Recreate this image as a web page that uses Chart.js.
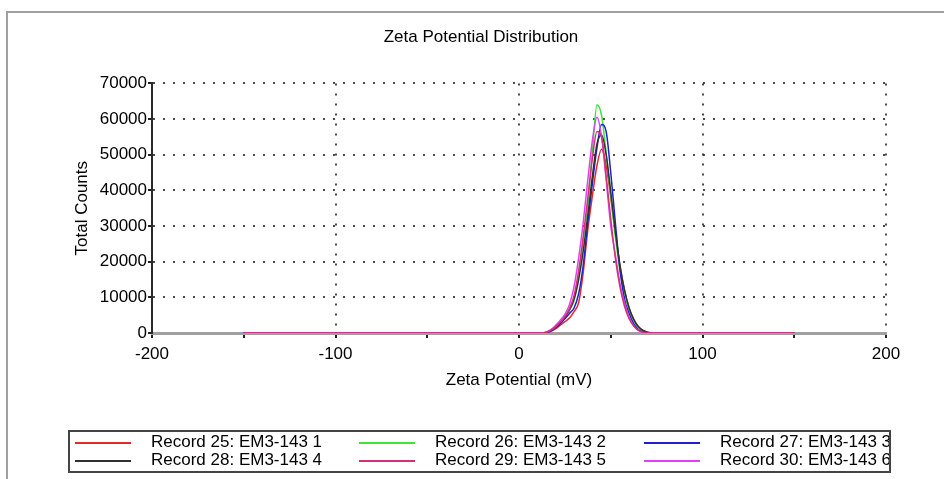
<!DOCTYPE html>
<html>
<head>
<meta charset="utf-8">
<script src="https://cdn.jsdelivr.net/npm/chart.js@4"></script>
<style>
  body { margin: 0; background: #fff; }
  #wrap { position: relative; width: 944px; height: 479px; overflow: hidden; font-family: "Liberation Sans", Arial, sans-serif; }
  #frame { position: absolute; left: 6px; top: 11px; right: -10px; bottom: -10px; border-top: 2px solid #a0a0a0; border-left: 2px solid #a0a0a0; }
  #box { position: absolute; left: 0; top: 0; width: 944px; height: 479px; }
  #leyenda { position: absolute; left: 68px; top: 430px; width: 819px; height: 38px; border: 2px solid #444; overflow: hidden;
             display: grid; grid-template-columns: 284px 285px 250px; grid-auto-rows: 18px; padding-top: 1px; }
  .item { position: relative; font-size: 17px; line-height: 18px; color: #000; white-space: nowrap; }
  .item span.linea { position: absolute; left: 5px; top: 9px; width: 56px; height: 2px; }
  .item span.txt { position: absolute; left: 81px; top: 0; }
</style>
</head>
<body>
<div id="wrap">
  <div id="frame"></div>
  <div id="box"><canvas id="myChart"></canvas></div>
  <div id="leyenda"></div>
</div>
<script>
// eje x (mV)
const zeta = [-150, 10, 12.5, 15, 17.5, 20, 22.5, 25, 27.5, 30, 32.5, 35, 37.5, 40, 42.5, 45, 47.5, 50, 52.5, 55, 57.5, 60, 62.5, 65, 67.5, 70, 72.5, 75, 150]

// total counts de cada registro
const rec25 = [0, 0, 0, 100, 500, 1200, 2200, 3200, 4200, 6000, 8500, 17000, 29000, 38500, 47000, 51500, 47000, 38000, 28000, 19000, 12000, 7000, 3800, 1800, 700, 200, 0, 0, 0]
const rec26 = [0, 0, 0, 200, 800, 1800, 3000, 4500, 6500, 9000, 16000, 26000, 36000, 51000, 64000, 61000, 50500, 38500, 27000, 17500, 11500, 6500, 3500, 1600, 600, 150, 0, 0, 0]
const rec27 = [0, 0, 0, 100, 600, 1500, 2600, 4000, 5500, 7000, 11000, 19000, 31000, 42000, 52000, 58500, 56500, 45000, 31000, 18000, 9500, 5500, 2600, 1000, 300, 50, 0, 0, 0]
const rec28 = [0, 0, 0, 200, 800, 1800, 3000, 4500, 6500, 9500, 15000, 23000, 33000, 44000, 53000, 55500, 50000, 39500, 28500, 19000, 12000, 7000, 3800, 1800, 700, 200, 0, 0, 0]
const rec29 = [0, 0, 0, 200, 800, 1800, 3000, 4500, 6800, 10500, 17500, 27000, 38000, 49000, 56500, 55000, 44000, 32000, 21000, 13000, 7500, 4000, 2000, 800, 250, 50, 0, 0, 0]
const rec30 = [0, 0, 0, 300, 1000, 2200, 3600, 5200, 8000, 13000, 21000, 31000, 43000, 54000, 60500, 55000, 43000, 30000, 22000, 14000, 8500, 4500, 2000, 700, 150, 0, 0, 0, 0]

const nombres = ['Record 25: EM3-143 1', 'Record 26: EM3-143 2', 'Record 27: EM3-143 3',
                 'Record 28: EM3-143 4', 'Record 29: EM3-143 5', 'Record 30: EM3-143 6']
const series = [rec25, rec26, rec27, rec28, rec29, rec30]
const colores = ['#e62828', '#3ce43c', '#2020d0', '#303030', '#d4307a', '#dd44ee']

const xTicks = [-200, -100, 0, 100, 200]
const yTicks = [0, 10000, 20000, 30000, 40000, 50000, 60000, 70000]

const fuente = "'Liberation Sans', Arial, sans-serif"
const punteado = 'rgba(30,30,30,0.8)'

function grafico_zeta(){

    const ctx = document.getElementById('myChart')

    const datasets = series.map((s, i) => ({
        label: nombres[i],
        data: s.map((v, j) => ({ x: zeta[j], y: v })),
        borderColor: colores[i],
        borderWidth: 1.5,
        pointRadius: 0,
        cubicInterpolationMode: 'monotone',
        fill: false,
        order: i === 4 ? 0 : 6 - i   // el registro 29 queda encima
    }))

    new Chart(ctx, {
        type: 'line',
        data: { datasets: datasets },
        options: {
            responsive: true,
            maintainAspectRatio: false,
            animation: false,
            layout: { padding: { left: 76, right: 58, top: 27, bottom: 76 } },
            plugins: {
                legend: { display: false },
                tooltip: { enabled: false },
                title: {
                    display: true,
                    text: 'Zeta Potential Distribution',
                    color: '#000',
                    font: { family: fuente, size: 17, weight: 'normal' },
                    padding: { top: 0, bottom: 36 }
                }
            },
            scales: {
                x: {
                    type: 'linear',
                    min: -200, max: 200,
                    afterFit: (s) => { s.height = 70 },
                    ticks: {
                        stepSize: 50,
                        color: '#000',
                        padding: 6,
                        maxRotation: 0,
                        font: { family: fuente, size: 17 },
                        callback: (v) => xTicks.includes(v) ? v : ''
                    },
                    grid: {
                        color: (c) => (c.tick && xTicks.includes(c.tick.value) && c.tick.value !== -200) ? punteado : 'transparent',
                        tickColor: '#222',
                        tickLength: 5,
                        lineWidth: 2
                    },
                    border: { display: true, color: '#a0a0a0', width: 3, dash: [2, 8] },
                    title: {
                        display: true,
                        text: 'Zeta Potential (mV)',
                        color: '#000',
                        font: { family: fuente, size: 17 },
                        padding: { top: 0, bottom: 12 }
                    }
                },
                y: {
                    min: 0, max: 70000,
                    afterFit: (s) => { s.width = 76 },
                    ticks: {
                        stepSize: 5000,
                        color: '#000',
                        padding: 1,
                        font: { family: fuente, size: 17 },
                        callback: (v) => yTicks.includes(v) ? v : ''
                    },
                    grid: {
                        color: (c) => (c.tick && yTicks.includes(c.tick.value) && c.tick.value !== 0) ? punteado : 'transparent',
                        tickColor: '#222',
                        tickLength: 4,
                        lineWidth: 2
                    },
                    border: { display: true, color: '#2a2a2a', width: 2, dash: [2, 8] },
                    title: {
                        display: true,
                        text: 'Total Counts',
                        color: '#000',
                        font: { family: fuente, size: 17 },
                        padding: { top: -4, bottom: 0 }
                    }
                }
            }
        }
    })

    // leyenda en caja, 3 columnas
    const ley = document.getElementById('leyenda')
    nombres.forEach((n, i) => {
        const d = document.createElement('div')
        d.className = 'item'
        d.innerHTML = '<span class="linea" style="background:' + colores[i] + '"></span><span class="txt">' + n + '</span>'
        ley.appendChild(d)
    })
}

grafico_zeta()
</script>
</body>
</html>
